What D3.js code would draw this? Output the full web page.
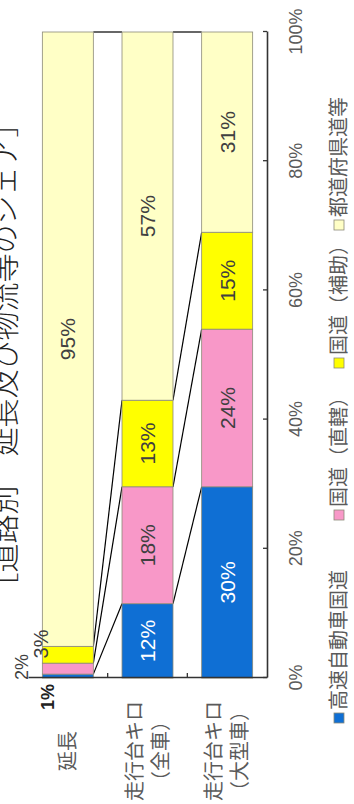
<!DOCTYPE html>
<html><head><meta charset="utf-8">
<script src="https://cdn.jsdelivr.net/npm/d3@7"></script>
<style>html,body{margin:0;padding:0;background:#fff;} svg{display:block;}</style>
</head><body>
<script>
// ---- data ----
const categories = ["延長", "走行台キロ（全車）", "走行台キロ（大型車）"];
const categoryLines = [["延長"], ["走行台キロ", "（全車）"], ["走行台キロ", "（大型車）"]];
const seriesNames = ["高速自動車国道", "国道（直轄）", "国道（補助）", "都道府県道等"];
const expressway = [0.6, 11.5, 29.6];
const nationalDirect = [1.7, 18.1, 24.4];
const nationalAux = [2.6, 13.4, 15.0];
const prefectural = [95.1, 57.0, 31.0];
const tickValues = [0, 20, 40, 60, 80, 100];
const tickLabels = ["0%", "20%", "40%", "60%", "80%", "100%"];
const title = "［道路別　延長及び物流等のシェア］";

// ---- styles / layout ----
const colors = ["#0f6fd4", "#f898c8", "#ffff00", "#ffffc6"];
const labelColors = ["#ffffff", "#404040", "#404040", "#404040"];
const numFont = "'Liberation Sans', Arial, sans-serif";
const jpFont = "'Noto Sans CJK JP', 'Noto Sans', sans-serif";

const series = [expressway, nationalDirect, nationalAux, prefectural];

const svg = d3.select("body").append("svg").attr("width", 354).attr("height", 804);
const g = svg.append("g").attr("transform", "translate(0,804) rotate(-90)");

const x = d3.scaleLinear().domain([0, 100]).range([126, 772]);
const y = d3.scaleBand().domain(categories).range([28, 267]).paddingInner(0.36).paddingOuter(0.18);

// stacked data
const stacked = categories.map((c, ci) => {
  let acc = 0;
  return series.map((s, si) => {
    const v = s[ci];
    const seg = {cat: c, ci, si, v, x0: acc, x1: acc + v};
    acc += v;
    return seg;
  });
});

// series lines between bars
const lines = [];
for (let ci = 0; ci < categories.length - 1; ci++) {
  for (let si = 0; si < series.length; si++) {
    lines.push({
      u1: x(stacked[ci][si].x1), v1: y(categories[ci]) + y.bandwidth(),
      u2: x(stacked[ci + 1][si].x1), v2: y(categories[ci + 1])
    });
  }
}
g.append("g").selectAll("line").data(lines).join("line")
  .attr("x1", d => d.u1).attr("y1", d => d.v1)
  .attr("x2", d => d.u2).attr("y2", d => d.v2)
  .attr("stroke", "#000").attr("stroke-width", 1.2);

// bars
g.append("g").selectAll("rect").data(stacked.flat()).join("rect")
  .attr("x", d => x(d.x0))
  .attr("width", d => x(d.x1) - x(d.x0))
  .attr("y", d => y(d.cat))
  .attr("height", y.bandwidth())
  .attr("fill", d => colors[d.si])
  .attr("stroke", "#8c8a78").attr("stroke-width", 0.8);

// bar labels
const small = {0: {du: -19, dv: 5.5, size: 18, weight: "bold", color: "#222"},
               1: {du: 11, dv: -21, size: 18, weight: "normal", color: "#404040"},
               2: {du: 34, dv: -2, size: 20, weight: "normal", color: "#404040"}};
g.append("g").selectAll("text").data(stacked.flat()).join("text")
  .each(function (d) {
    const t = d3.select(this);
    let u, v, size = 21, weight = "normal", color = labelColors[d.si];
    if (d.ci === 0 && small[d.si]) {
      const s = small[d.si];
      u = x(0) + s.du; v = y(d.cat) + s.dv; size = s.size; weight = s.weight; color = s.color;
    } else {
      u = x((d.x0 + d.x1) / 2); v = y(d.cat) + y.bandwidth() / 2;
    }
    t.attr("x", u).attr("y", v).attr("dy", "0.36em")
      .attr("text-anchor", "middle")
      .attr("font-family", numFont).attr("font-size", size)
      .attr("font-weight", weight).attr("fill", color)
      .text(Math.round(d.v) + "%");
  });

// value axis
const xAxis = d3.axisBottom(x).tickValues(tickValues)
  .tickFormat((d, i) => tickLabels[i]).tickSizeInner(-4).tickSizeOuter(0).tickPadding(22);
const xa = g.append("g").attr("transform", `translate(0,${y.range()[1]})`).call(xAxis);
xa.select(".domain").attr("stroke", "#333").attr("stroke-width", 1.6);
xa.selectAll(".tick line").attr("stroke", "#333").attr("stroke-width", 1.3);
xa.selectAll(".tick text").attr("font-family", numFont).attr("font-size", 18).attr("fill", "#5a5a5a");

// category axis
const yAxis = d3.axisLeft(y).tickSize(0).tickFormat("");
const ya = g.append("g").attr("transform", `translate(${x(0)},0)`).call(yAxis);
ya.select(".domain").attr("stroke", "#333").attr("stroke-width", 1.6);
const bounds = categories.slice(1).map(c => y(c) - y.step() * y.paddingInner() / 2);
ya.selectAll(".bt").data(bounds).join("line").attr("class", "bt")
  .attr("x1", 0).attr("x2", 5).attr("y1", d => d).attr("y2", d => d)
  .attr("stroke", "#333").attr("stroke-width", 1.3);

// category labels
const catG = g.append("g");
categoryLines.forEach((ls, ci) => {
  const cv = y(categories[ci]) + y.bandwidth() / 2;
  const n = ls.length;
  ls.forEach((l, li) => {
    catG.append("text")
      .attr("x", 53).attr("y", cv + (li - (n - 1) / 2) * 26).attr("dy", "0.36em")
      .attr("text-anchor", "middle")
      .attr("font-family", jpFont).attr("font-size", 20).attr("fill", "#5a5a5a")
      .text(l);
  });
});

// legend
const legendU = [86, 289, 441, 579];
const lg = g.append("g").attr("transform", "translate(0,339)");
seriesNames.forEach((name, i) => {
  lg.append("rect").attr("x", legendU[i] - 5).attr("y", -5).attr("width", 10).attr("height", 10)
    .attr("fill", colors[i]).attr("stroke", "#8c8a78").attr("stroke-width", 0.8);
  lg.append("text").attr("x", legendU[i] + 8).attr("y", 0).attr("dy", "0.36em")
    .attr("font-family", jpFont).attr("font-size", 20).attr("fill", "#5a5a5a")
    .text(name);
});

// title (partly cut at the edge, as in the reference)
g.append("text").attr("x", (x(0) + x(100)) / 2).attr("y", 16)
  .attr("text-anchor", "middle")
  .attr("font-family", jpFont).attr("font-size", 29).attr("font-weight", 300).attr("fill", "#222")
  .text(title);
</script>
</body></html>
